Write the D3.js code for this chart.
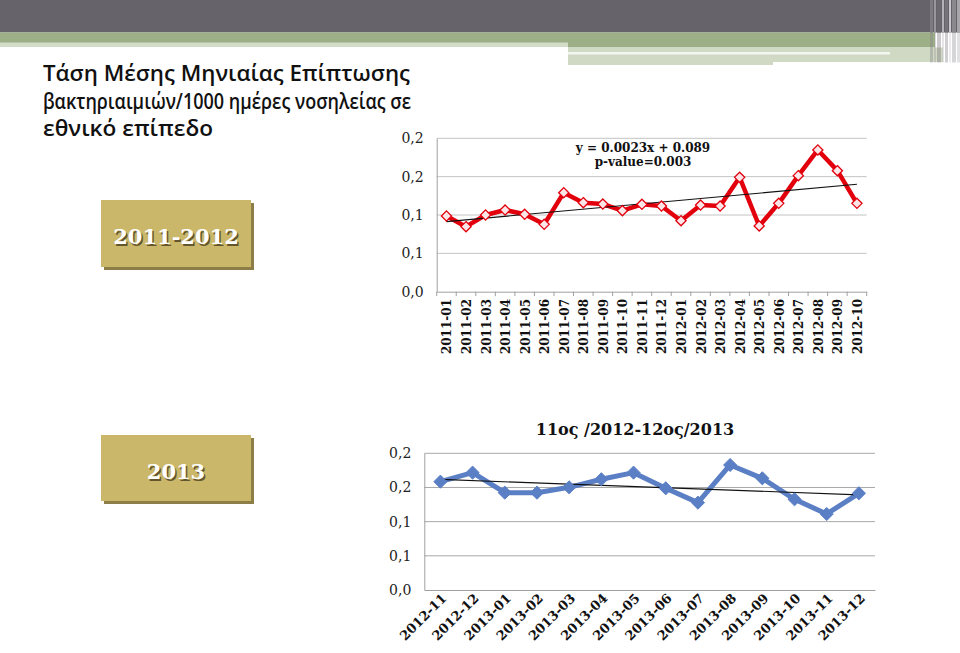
<!DOCTYPE html>
<html><head><meta charset="utf-8">
<script src="https://cdn.jsdelivr.net/npm/d3@7"></script>
<style>html,body{margin:0;padding:0;background:#fff;}svg{display:block;}</style>
</head><body>
<svg id="c" width="960" height="653"></svg>
<script>
// ---------- data ----------
const titleLines = ["Τάση Μέσης Μηνιαίας Επίπτωσης", "βακτηριαιμιών/1000 ημέρες νοσηλείας σε", "εθνικό επίπεδο"];
const titleWidths = [367, 368, 170];
const topCategories = ["2011-01","2011-02","2011-03","2011-04","2011-05","2011-06","2011-07","2011-08","2011-09","2011-10","2011-11","2011-12",
  "2012-01","2012-02","2012-03","2012-04","2012-05","2012-06","2012-07","2012-08","2012-09","2012-10"];
const topValues = [0.0987,0.0848,0.1000,0.1065,0.1009,0.0878,0.1291,0.1161,0.1143,0.1057,0.1139,0.1117,
  0.0926,0.1130,0.1117,0.1491,0.0857,0.1152,0.1513,0.1848,0.1578,0.1152];
const topEquation = ["y = 0.0023x + 0.089", "p-value=0.003"];
const topBadge = "2011-2012";

const bottomTitle = "11ος /2012-12ος/2013";
const bottomCategories = ["2012-11","2012-12","2013-01","2013-02","2013-03","2013-04","2013-05","2013-06","2013-07","2013-08","2013-09","2013-10","2013-11","2013-12"];
const bottomValues = [0.1585,0.1717,0.1424,0.1424,0.1502,0.1620,0.1717,0.1488,0.1278,0.1829,0.1634,0.1327,0.1112,0.1415];
const bottomBadge = "2013";

const yTickValues = [0, 0.05, 0.1, 0.15, 0.2];
const yTickLabels = ["0,0", "0,1", "0,1", "0,2", "0,2"];

// ---------- helpers ----------
const svg = d3.select("#c");
const serif = "'DejaVu Serif', 'Liberation Serif', serif";

function regression(vals) {
  const xs = vals.map((_, i) => i + 1);
  const mx = d3.mean(xs), my = d3.mean(vals);
  let sxy = 0, sxx = 0;
  xs.forEach((x, i) => { sxy += (x - mx) * (vals[i] - my); sxx += (x - mx) * (x - mx); });
  const b = sxy / sxx, a = my - b * mx;
  return x => a + b * x;
}

// ---------- header decoration ----------
svg.append("rect").attr("x", 0).attr("y", 0).attr("width", 960).attr("height", 32.5).attr("fill", "#67636b");
svg.append("rect").attr("x", 0).attr("y", 32.5).attr("width", 935).attr("height", 15).attr("fill", "#9caf86");
svg.append("rect").attr("x", 0).attr("y", 42.5).attr("width", 568).attr("height", 4.5).attr("fill", "#d3dcc8");
svg.append("rect").attr("x", 0).attr("y", 47).attr("width", 568).attr("height", 1).attr("fill", "#ffffff");
svg.append("rect").attr("x", 568).attr("y", 47.5).attr("width", 375).attr("height", 14.5).attr("fill", "#d0d9c4");
svg.append("rect").attr("x", 568).attr("y", 62).attr("width", 205).attr("height", 3).attr("fill", "#d0d9c4");
svg.append("rect").attr("x", 568).attr("y", 52).attr("width", 322).attr("height", 2.5).attr("fill", "#f4f6f0");
const stripes = [[930,3,"#7d7a80"],[934,2,"#9a979c"],[937,4,"#6c6870"],[942,2,"#b4b2b6"],[945,3,"#77737a"],[949,2,"#c9c7cb"],[952,4,"#8a878d"],[957,3,"#a9a6ab"]];
stripes.forEach(s => {
  svg.append("rect").attr("x", s[0]).attr("y", 0).attr("width", s[1]).attr("height", 32.5).attr("fill", s[2]);
  svg.append("rect").attr("x", s[0]).attr("y", 32.5).attr("width", s[1]).attr("height", 30).attr("fill", s[2]).attr("opacity", 0.35);
});

// ---------- title ----------
titleLines.forEach((t, i) =>
  svg.append("text").attr("x", 43).attr("y", 81 + i * 27.5)
    .attr("font-family", "'Open Sans', 'DejaVu Sans', sans-serif").attr("font-weight", 600).attr("font-size", 22)
    .attr("fill", "#111").attr("textLength", titleWidths[i]).attr("lengthAdjust", "spacingAndGlyphs").text(t));

// ---------- badges ----------
function badge(x, y, w, h, label, baseline) {
  svg.append("rect").attr("x", x + 3).attr("y", y + 3).attr("width", w).attr("height", h).attr("fill", "#8d7e47");
  svg.append("rect").attr("x", x).attr("y", y).attr("width", w).attr("height", h).attr("fill", "#cbb769");
  svg.append("text").attr("x", x + w / 2 + 1.5).attr("y", baseline + 1.5).attr("text-anchor", "middle")
    .attr("font-family", serif).attr("font-weight", "bold").attr("font-size", 21).attr("fill", "#4a3f1e").attr("opacity", 0.8).text(label);
  svg.append("text").attr("x", x + w / 2).attr("y", baseline).attr("text-anchor", "middle")
    .attr("font-family", serif).attr("font-weight", "bold").attr("font-size", 21).attr("fill", "#ffffff").text(label);
}
badge(101, 200, 150, 67, topBadge, 244);
badge(101, 435, 150, 66, bottomBadge, 479);

// ---------- top chart ----------
{
  const x = d3.scaleBand().domain(topCategories).range([436.7, 866.7]).padding(0);
  const y = d3.scaleLinear().domain([0, 0.2]).range([291.7, 138.3]);
  const g = svg.append("g");
  g.selectAll("line.grid").data(yTickValues.slice(1)).join("line")
    .attr("x1", 436.7).attr("x2", 866.7).attr("y1", d => y(d)).attr("y2", d => y(d))
    .attr("stroke", "#c4c4c4").attr("stroke-width", 1);
  const ya = g.append("g").attr("transform", "translate(436.7,0)")
    .call(d3.axisLeft(y).tickValues(yTickValues).tickSize(0).tickPadding(13).tickFormat((d, i) => yTickLabels[i]));
  ya.select(".domain").attr("stroke", "#a0a0a0");
  ya.selectAll("text").attr("font-family", serif).attr("font-size", 14).attr("fill", "#222");
  const xa = g.append("g").attr("transform", "translate(0,291.7)")
    .call(d3.axisBottom(x).tickSize(0).tickFormat(""));
  xa.select(".domain").attr("stroke", "#a0a0a0");
  const bounds = d3.range(topCategories.length + 1).map(i => 436.7 + i * x.bandwidth());
  g.selectAll("line.tk").data(bounds).join("line").attr("x1", d => d).attr("x2", d => d)
    .attr("y1", 291.7).attr("y2", 296).attr("stroke", "#a0a0a0");
  g.selectAll("text.xl").data(topCategories).join("text")
    .attr("transform", d => `translate(${x(d) + x.bandwidth() / 2 + 5},299) rotate(-90)`)
    .attr("text-anchor", "end").attr("font-family", serif).attr("font-weight", "bold").attr("font-size", 12)
    .attr("fill", "#111").text(d => d);
  const cx = d => x(d) + x.bandwidth() / 2;
  const line = d3.line().x((d, i) => cx(topCategories[i])).y(d => y(d));
  g.append("path").datum(topValues).attr("d", line).attr("fill", "none").attr("stroke", "#e2000d")
    .attr("stroke-width", 4.5).attr("stroke-linejoin", "round");
  const f = regression(topValues);
  g.append("line").attr("x1", cx(topCategories[0])).attr("x2", cx(topCategories[topCategories.length - 1]))
    .attr("y1", y(f(1))).attr("y2", y(f(topCategories.length))).attr("stroke", "#111").attr("stroke-width", 1.1);
  const sym = d3.symbol().type(d3.symbolDiamond2).size(66);
  g.selectAll("path.pt").data(topValues).join("path")
    .attr("transform", (d, i) => `translate(${cx(topCategories[i])},${y(d)})`)
    .attr("d", sym).attr("fill", "#fbe5e7").attr("stroke", "#e2000d").attr("stroke-width", 1.3);
  const eq = g.append("text").attr("text-anchor", "middle").attr("font-family", serif).attr("font-weight", "bold")
    .attr("font-size", 12).attr("fill", "#111");
  topEquation.forEach((t, i) => eq.append("tspan").attr("x", 643).attr("y", 152 + i * 14).text(t));
}

// ---------- bottom chart ----------
{
  const x = d3.scaleBand().domain(bottomCategories).range([424.3, 875]).padding(0);
  const y = d3.scaleLinear().domain([0, 0.2]).range([590, 453.3]);
  const g = svg.append("g");
  g.selectAll("line.grid").data(yTickValues.slice(1)).join("line")
    .attr("x1", 424.3).attr("x2", 875).attr("y1", d => y(d)).attr("y2", d => y(d))
    .attr("stroke", "#a8a8a8").attr("stroke-width", 1);
  const ya = g.append("g").attr("transform", "translate(424.3,0)")
    .call(d3.axisLeft(y).tickValues(yTickValues).tickSize(0).tickPadding(13).tickFormat((d, i) => yTickLabels[i]));
  ya.select(".domain").attr("stroke", "#a0a0a0");
  ya.selectAll("text").attr("font-family", serif).attr("font-size", 14).attr("fill", "#222");
  const xa = g.append("g").attr("transform", "translate(0,590)")
    .call(d3.axisBottom(x).tickSize(0).tickFormat(""));
  xa.select(".domain").attr("stroke", "#a0a0a0");
  const cx = d => x(d) + x.bandwidth() / 2;
  g.selectAll("text.xl").data(bottomCategories).join("text")
    .attr("transform", d => `translate(${cx(d) + 7},599) rotate(-45)`)
    .attr("text-anchor", "end").attr("font-family", serif).attr("font-weight", "bold").attr("font-size", 13)
    .attr("fill", "#111").text(d => d);
  const line = d3.line().x((d, i) => cx(bottomCategories[i])).y(d => y(d));
  g.append("path").datum(bottomValues).attr("d", line).attr("fill", "none").attr("stroke", "#5b7fc5")
    .attr("stroke-width", 5).attr("stroke-linejoin", "round");
  const f = regression(bottomValues);
  g.append("line").attr("x1", cx(bottomCategories[0])).attr("x2", cx(bottomCategories[bottomCategories.length - 1]))
    .attr("y1", y(f(1))).attr("y2", y(f(bottomCategories.length))).attr("stroke", "#111").attr("stroke-width", 1.1);
  const sym = d3.symbol().type(d3.symbolDiamond2).size(110);
  g.selectAll("path.pt").data(bottomValues).join("path")
    .attr("transform", (d, i) => `translate(${cx(bottomCategories[i])},${y(d)})`)
    .attr("d", sym).attr("fill", "#5b7fc5").attr("stroke", "#5b7fc5").attr("stroke-width", 1);
  g.append("text").attr("x", 635).attr("y", 435).attr("text-anchor", "middle").attr("font-family", serif)
    .attr("font-weight", "bold").attr("font-size", 16).attr("fill", "#111").text(bottomTitle);
}
</script>
</body></html>
